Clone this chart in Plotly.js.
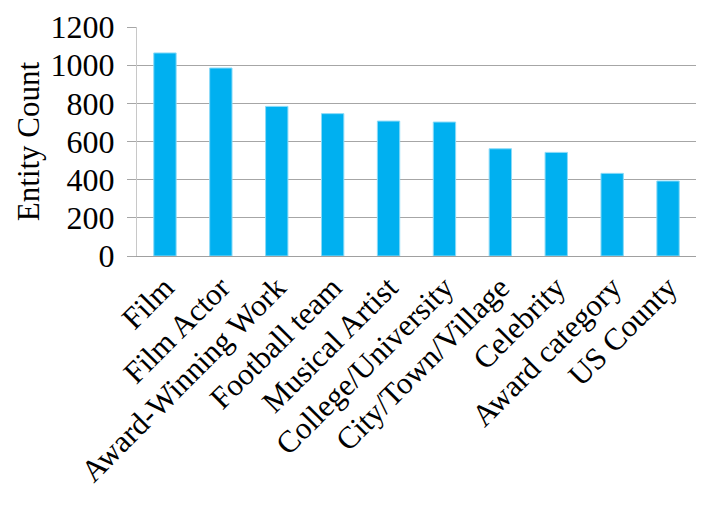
<!DOCTYPE html>
<html>
<head>
<meta charset="utf-8">
<script src="https://cdn.plot.ly/plotly-3.0.1.min.js"></script>
<style>
  html, body { margin: 0; padding: 0; background: white; }
  #chart { width: 714px; height: 505px; }
</style>
</head>
<body>
<div id="chart"></div>
<script>
// Entity counts per type
const categories = ['Film', 'Film Actor', 'Award-Winning Work', 'Football team', 'Musical Artist',
    'College/University', 'City/Town/Village', 'Celebrity', 'Award category', 'US County'];
const entityCounts = [1064, 985, 784, 746, 707, 702, 562, 543, 433, 393];
const yTicks = [0, 200, 400, 600, 800, 1000, 1200];

const serif = '"Liberation Serif", "Times New Roman", serif';

const traces = [{
    x: categories,
    y: entityCounts,
    type: 'bar',
    marker: {
        color: '#00B0F0',
        line: { color: '#8adaf7', width: 1 }
    },
    hovertemplate: '%{x}: %{y}<extra></extra>'
}];

const layout = {
    width: 714,
    height: 505,
    margin: { t: 27, r: 18, b: 249, l: 137 },
    font: { family: serif, size: 31, color: '#000' },
    showlegend: false,
    bargap: 0.6,
    plot_bgcolor: 'white',
    paper_bgcolor: 'white',
    xaxis: {
        type: 'category',
        tickangle: -45,
        showline: true,
        linecolor: '#a0a0a0',
        linewidth: 1,
        showgrid: false,
        ticks: '',
        tickfont: { family: serif, size: 31 }
    },
    yaxis: {
        title: { text: 'Entity Count', font: { family: serif, size: 31 }, standoff: 1 },
        range: [0, 1200],
        tickvals: yTicks,
        ticks: 'outside',
        ticklen: 9,
        tickcolor: '#a6a6a6',
        ticklabelstandoff: 6,
        showline: true,
        linecolor: '#c8c8c8',
        linewidth: 1,
        gridcolor: '#a6a6a6',
        gridwidth: 1,
        zeroline: false,
        tickfont: { family: serif, size: 32 }
    }
};

Plotly.newPlot('chart', traces, layout, { displayModeBar: false, staticPlot: true });
</script>
</body>
</html>
